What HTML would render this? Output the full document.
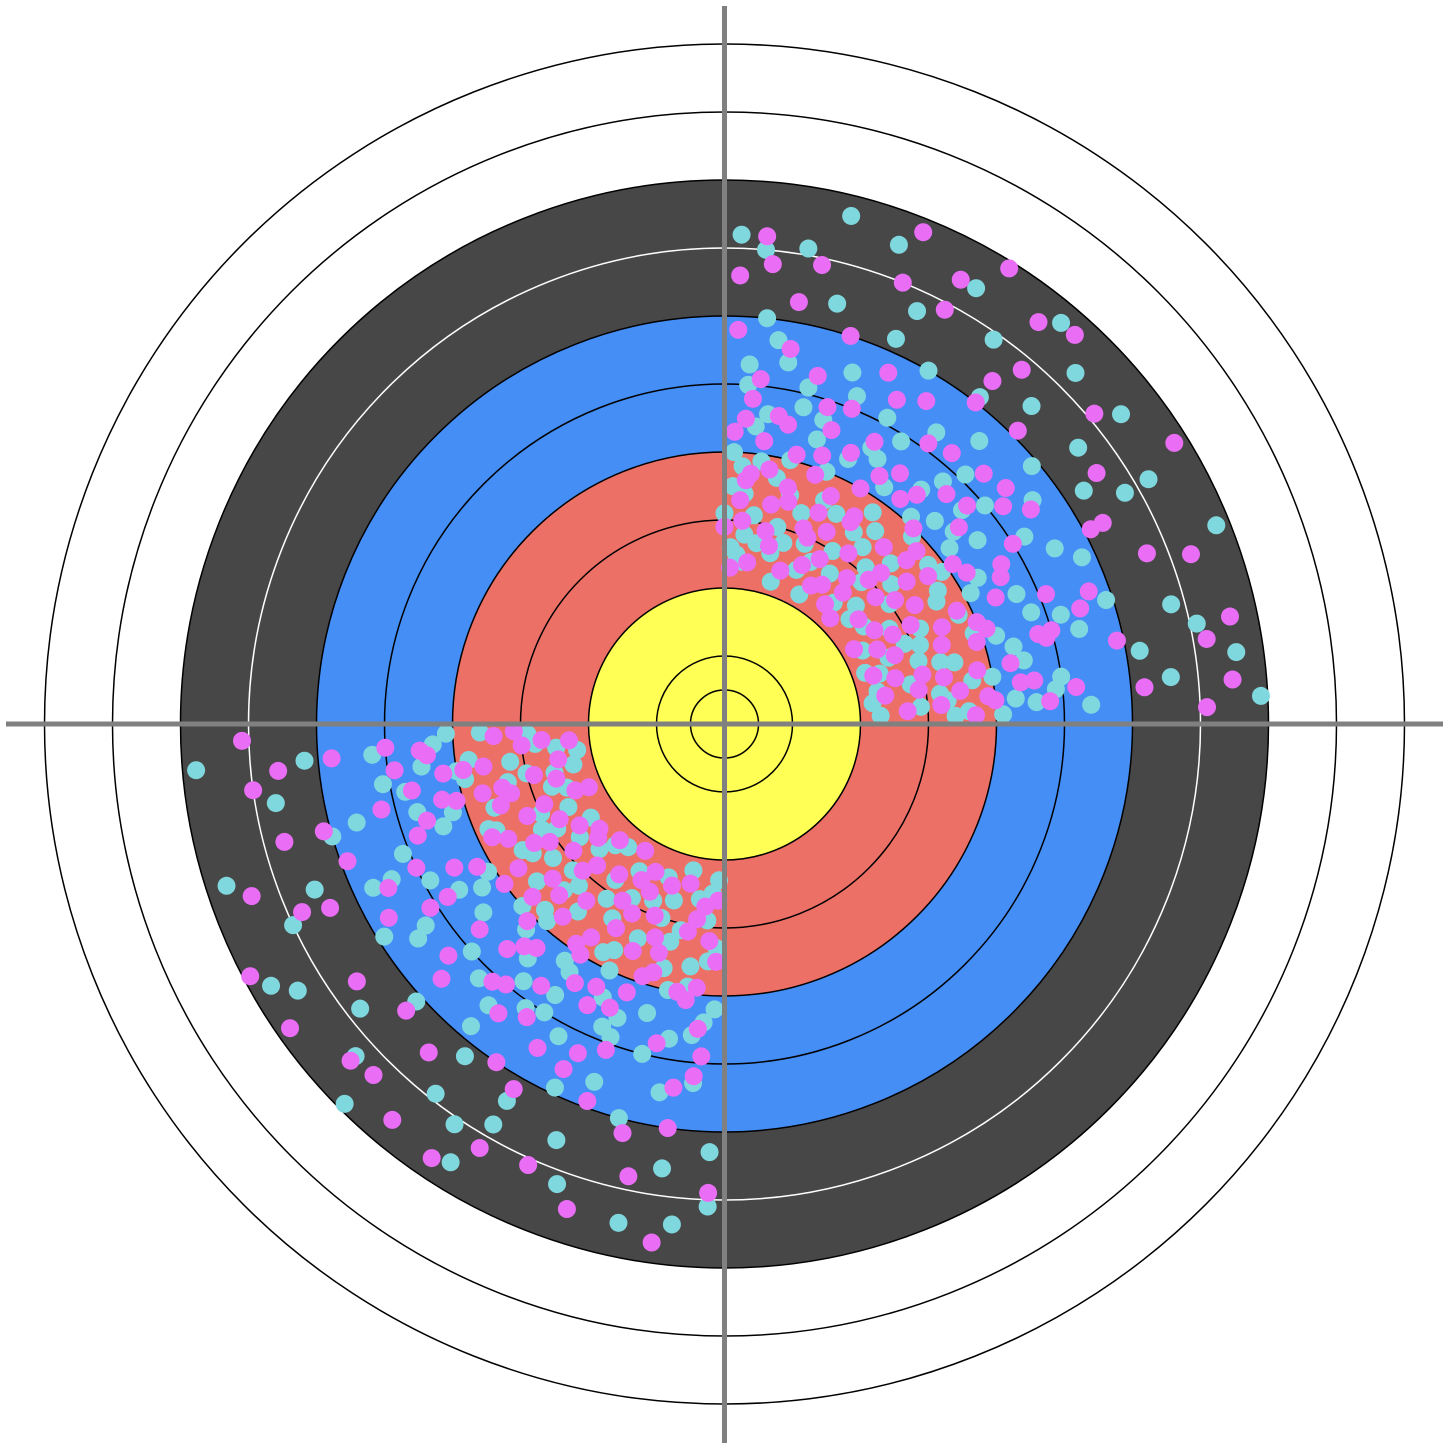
<!DOCTYPE html>
<html><head><meta charset="utf-8"><style>html,body{margin:0;padding:0;background:#fff}svg{display:block}</style></head>
<body>
<svg id="chart" width="1450" height="1450" viewBox="0 0 1450 1450" xmlns="http://www.w3.org/2000/svg">
<g id="rings"></g>
<g id="points"></g>
<g id="axes"></g>
</svg>
<script>
// Ring data (units = ring index)
const ringFills = [[8,'#474747'],[6,'#448ef6'],[4,'#ed7066'],[2,'#ffff55']];
const ringLines = [[10,'#000'],[9,'#000'],[8,'#000'],[7,'#fff'],[6,'#000'],[5,'#000'],[4,'#000'],[3,'#000'],[2,'#000'],[1,'#000'],[0.5,'#000']];
// Hits: [radius (ring units), angle (deg, math convention)]
const cyanQ1 = [[2.3,12],[2.5,35],[2.2,60],[2.7,80],[2.9,5],[3.1,22],[2.4,48],[3.3,70],[2.6,88],[3.5,15],[3.2,40],[3.8,55],[3.0,75],[3.6,3],[4.1,28],[3.4,85],[3.9,45],[4.3,65],[2.8,30],[4.0,10],[4.5,50],[3.7,78],[4.8,20],[4.2,38],[2.2,20],[4.6,82],[5.0,8],[3.3,52],[4.4,72],[2.9,66],[5.2,32],[3.8,25],[4.9,58],[2.4,84],[3.1,90],[4.7,42],[5.4,15],[2.6,42],[3.5,62],[5.1,76],[4.0,88],[2.3,3],[3.0,18],[4.3,5],[5.6,48],[3.9,35],[2.7,55],[4.6,62],[5.3,86],[3.2,8],[5.8,25],[6.0,60],[5.5,70],[6.2,10],[5.9,40],[5.7,82],[6.3,33],[6.1,52],[5.4,3],[6.4,75],[6.8,15],[7.2,30],[6.9,55],[7.5,70],[7.0,85],[7.6,8],[7.3,45],[7.8,22],[6.7,65],[7.4,60],[7.9,3],[7.1,80],[6.6,38],[7.7,50],[7.2,88],[3.6,30],[4.1,48],[2.8,72],[3.4,2],[4.4,15],
[2.2,8],[2.3,28],[2.4,40],[2.2,72],[2.5,86],[2.6,22],[2.7,62],[2.8,12],[2.9,46],[3.0,58],[3.1,82],[3.2,26],[3.3,16],[3.4,44],[3.5,74],[3.6,52],[3.7,10],[3.8,86],[3.9,20],[4.0,68],[4.1,2],[4.2,56],[4.3,30],[4.4,84],[4.5,12],[4.6,36],[4.7,72],[4.8,48],[4.9,6],[5.0,40],[5.1,62],[5.2,18],[5.3,54],[5.4,80],[5.5,28],[2.5,65],[2.8,84],[3.0,36],[3.3,6],[3.6,66],[3.9,82],[4.2,18],[4.5,60],[4.8,76],[5.1,46],[2.4,18],[2.9,24],[3.4,56],[3.8,38],[4.3,44],[4.7,24],[5.2,68],[5.6,36],[5.9,18],[6.2,66],[6.5,46],[6.8,30],[7.1,12],[7.4,38],[7.7,76],[3.1,48],[3.7,32],[4.0,76],[4.6,4],[5.0,86],[2.6,75],[3.5,88],[4.4,40],[6.0,84],[6.6,6]];
const magentaQ1 = [[2.2,30],[2.4,70],[2.6,15],[2.8,50],[3.0,85],[3.2,5],[2.5,55],[3.4,38],[3.6,75],[2.3,88],[3.8,12],[4.0,60],[3.1,28],[4.2,82],[3.5,48],[2.9,40],[4.4,25],[3.7,65],[4.6,8],[3.3,78],[4.8,42],[2.7,22],[5.0,68],[3.9,18],[4.1,35],[4.5,55],[2.4,10],[3.2,62],[4.3,88],[4.7,30],[5.2,50],[3.6,85],[2.6,32],[4.9,15],[3.0,45],[5.3,75],[4.0,5],[3.4,20],[4.2,52],[2.9,78],[5.5,35],[3.8,42],[4.6,70],[5.1,22],[2.3,50],[3.5,8],[4.4,65],[5.6,58],[3.1,68],[4.8,85],[5.9,12],[6.1,45],[5.7,65],[6.3,28],[5.8,88],[6.0,72],[6.4,52],[5.4,40],[6.2,5],[5.6,80],[6.7,22],[7.1,40],[7.4,62],[6.9,78],[7.6,12],[7.2,85],[7.8,32],[6.8,50],[7.5,5],[7.0,68],[7.7,48],[7.3,20],[6.6,88],[7.9,58],[7.1,2],[3.3,32],[2.8,60],[4.1,75],[3.7,2],[4.5,40],
[2.2,45],[2.3,18],[2.4,82],[2.5,38],[2.6,64],[2.7,4],[2.8,28],[2.9,90],[3.0,14],[3.1,54],[3.2,44],[3.3,86],[3.4,66],[3.5,24],[3.6,58],[3.7,36],[3.8,80],[3.9,6],[4.0,46],[4.1,20],[4.2,70],[4.3,12],[4.4,50],[4.5,78],[4.6,28],[4.7,62],[4.8,16],[4.9,72],[5.0,32],[5.1,84],[5.2,6],[5.3,44],[5.4,62],[5.5,18],[2.4,58],[2.7,76],[3.0,66],[3.3,12],[3.6,42],[3.9,70],[4.2,32],[4.5,86],[4.8,4],[5.1,54],[2.5,26],[2.9,10],[3.4,74],[3.8,26],[4.3,58],[4.7,46],[5.2,38],[5.7,20],[6.0,52],[6.3,80],[6.6,34],[6.9,62],[7.2,10],[7.5,52],[7.8,68],[3.1,36],[3.7,84],[4.0,22],[4.6,80],[5.0,16],[2.6,48],[3.5,58],[4.4,8],[6.1,28],[6.8,84]];
const cyanQ3 = [[2.3,195],[2.6,225],[2.2,258],[2.9,183],[3.1,210],[2.5,240],[3.3,268],[2.7,200],[3.5,232],[3.0,252],[3.8,188],[3.2,218],[4.0,245],[3.6,262],[2.4,215],[4.2,198],[3.9,228],[4.4,255],[2.8,235],[4.1,182],[4.6,212],[3.4,248],[4.8,192],[4.3,238],[2.3,268],[5.0,222],[4.7,260],[3.7,205],[4.5,230],[2.9,265],[5.2,185],[3.3,195],[4.9,250],[2.6,208],[5.1,235],[3.8,242],[5.4,205],[2.5,188],[4.0,222],[5.3,265],[5.6,195],[5.8,230],[6.0,255],[5.5,215],[6.2,185],[5.9,245],[6.3,268],[5.7,205],[6.1,222],[6.4,240],[6.7,190],[7.0,205],[7.3,222],[6.8,240],[7.5,258],[7.1,268],[7.7,198],[6.9,232],[7.4,212],[7.8,185],[7.2,250],[6.6,262],[7.6,238],[7.9,225],[3.1,258],[4.2,268],[3.6,182],[2.8,248],[4.4,200],[3.2,228],
[2.2,190],[2.3,232],[2.4,250],[2.5,202],[2.6,262],[2.7,218],[2.8,186],[2.9,242],[3.0,206],[3.1,236],[3.2,190],[3.3,256],[3.4,214],[3.5,266],[3.6,200],[3.7,244],[3.8,226],[3.9,192],[4.0,258],[4.1,212],[4.2,236],[4.3,184],[4.4,246],[4.5,218],[4.6,264],[4.7,196],[4.8,232],[4.9,208],[5.0,256],[5.1,190],[5.2,242],[5.3,214],[5.4,230],[5.5,260],[2.4,228],[2.7,254],[3.0,194],[3.3,240],[3.6,220],[3.9,262],[4.2,226],[4.5,188],[4.8,248],[5.1,202],[2.5,266],[2.9,212],[3.4,226],[3.8,204],[4.3,214],[4.7,238],[5.2,226],[5.6,250],[5.9,212],[6.2,232],[6.5,202],[6.8,218],[7.1,236],[7.4,264],[7.7,210],[3.1,224],[3.7,256],[4.0,190],[4.6,250],[5.0,238],[2.6,196],[3.5,212],[4.4,266],[6.0,196],[6.6,248]];
const magentaQ3 = [[2.2,205],[2.4,245],[2.7,185],[2.9,220],[3.1,260],[2.5,192],[3.3,232],[2.6,268],[3.5,200],[3.0,240],[3.7,215],[2.3,228],[3.9,252],[3.4,183],[4.1,225],[2.8,210],[4.3,195],[3.6,248],[4.5,265],[3.2,205],[4.7,235],[3.8,222],[4.9,188],[2.4,258],[4.2,210],[5.1,250],[3.5,268],[4.6,198],[4.0,238],[2.9,195],[5.3,220],[3.3,212],[4.8,258],[2.7,235],[5.0,205],[3.9,190],[5.5,240],[4.4,228],[3.1,182],[5.2,265],[5.7,210],[5.9,250],[6.1,195],[5.4,232],[6.3,222],[5.8,185],[6.0,262],[5.6,245],[6.2,240],[6.4,205],[6.6,215],[7.0,188],[7.2,240],[6.8,258],[7.4,200],[7.6,230],[6.9,268],[7.8,215],[7.1,182],[7.5,252],[7.3,225],[6.7,195],[7.7,262],[7.9,208],[3.4,242],[4.1,262],[3.7,230],[2.6,215],[4.5,185],[3.0,250],
[2.2,238],[2.3,186],[2.4,220],[2.5,252],[2.6,198],[2.7,264],[2.8,228],[2.9,204],[3.0,186],[3.1,244],[3.2,266],[3.3,198],[3.4,222],[3.5,254],[3.6,190],[3.7,238],[3.8,206],[3.9,264],[4.0,216],[4.1,196],[4.2,250],[4.3,230],[4.4,186],[4.5,208],[4.6,244],[4.7,220],[4.8,200],[4.9,266],[5.0,230],[5.1,212],[5.2,194],[5.3,246],[5.4,262],[5.5,206],[2.4,204],[2.7,246],[3.0,226],[3.3,252],[3.6,208],[3.9,236],[4.2,190],[4.5,248],[4.8,212],[5.1,228],[2.5,222],[2.9,262],[3.4,196],[3.8,254],[4.3,244],[4.7,192],[5.2,236],[5.6,222],[5.9,200],[6.2,256],[6.5,228],[6.8,204],[7.1,246],[7.4,222],[7.7,236],[3.1,214],[3.7,196],[4.0,260],[4.6,226],[5.0,184],[2.6,242],[3.5,226],[4.4,240],[6.0,236],[6.6,186]];

const NS='http://www.w3.org/2000/svg';
const CX=724.5, CY=724, UNIT=68;
function rScale(r){return r*UNIT;}
function px(r,a){return CX+rScale(r)*Math.cos(a*Math.PI/180);}
function py(r,a){return CY-rScale(r)*Math.sin(a*Math.PI/180);}
function mk(tag,attrs,parent){const e=document.createElementNS(NS,tag);for(const k in attrs)e.setAttribute(k,attrs[k]);parent.appendChild(e);return e;}

const rings=document.getElementById('rings');
ringFills.forEach(([r,c])=>{
  const e=mk('circle',{cx:CX,cy:CY,r:rScale(r),fill:c},rings);
  
  
});
ringLines.forEach(([r,c])=>{
  const e=mk('circle',{cx:CX,cy:CY,r:rScale(r),fill:'none',stroke:c,'stroke-width':1.5},rings);
  
  
});

const pts=document.getElementById('points');
function drawSeries(arr,color,name){
  arr.forEach(([r,a])=>{
    const e=mk('circle',{cx:px(r,a),cy:py(r,a),r:9,fill:color},pts);
    
    
  });
}
drawSeries(cyanQ1,'#80d8df','cyan-hit');
drawSeries(magentaQ1,'#e96ef5','magenta-hit');
drawSeries(cyanQ3,'#80d8df','cyan-hit');
drawSeries(magentaQ3,'#e96ef5','magenta-hit');

const axes=document.getElementById('axes');
const h=mk('line',{x1:6,y1:CY,x2:1443,y2:CY,stroke:'#808080','stroke-width':5},axes);


const v=mk('line',{x1:CX,y1:6,x2:CX,y2:1443,stroke:'#808080','stroke-width':5},axes);


</script>
</body></html>
